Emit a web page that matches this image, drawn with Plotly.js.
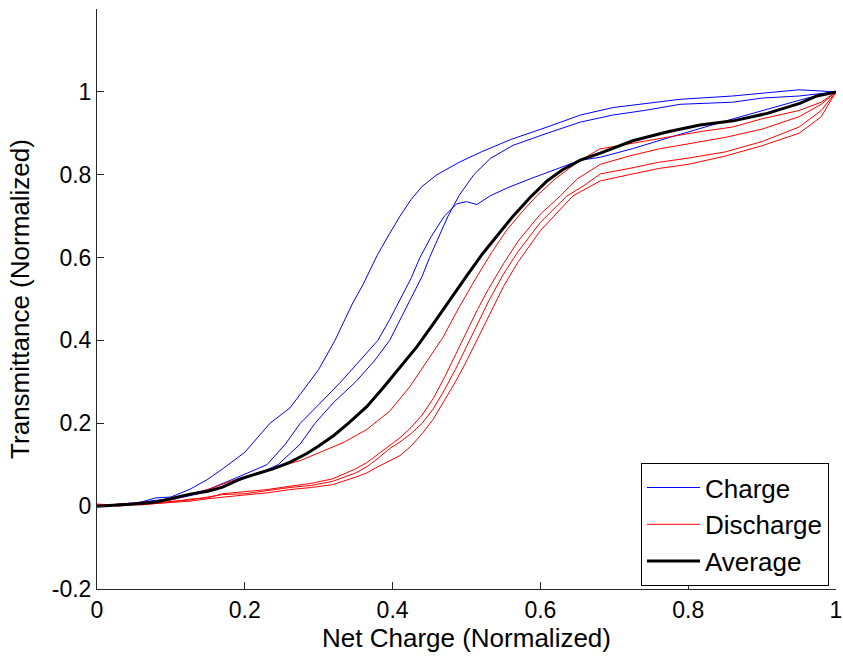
<!DOCTYPE html>
<html>
<head>
<meta charset="utf-8">
<script src="https://cdn.plot.ly/plotly-3.0.1.min.js"></script>
<style>html,body{margin:0;padding:0;background:#fff;}#chart{width:843px;height:659px;}</style>
</head>
<body>
<div id="chart"></div>
<script>
// Charge curves
const charge1X = [0, 0.05, 0.08, 0.1, 0.126, 0.15, 0.17, 0.2, 0.234, 0.261, 0.275, 0.3, 0.322, 0.346, 0.36, 0.379, 0.395, 0.41, 0.425, 0.44, 0.46, 0.49, 0.52, 0.56, 0.609, 0.654, 0.698, 0.744, 0.789, 0.86, 0.907, 0.95, 1.0];
const charge1Y = [0, 0.005, 0.02, 0.022, 0.041, 0.065, 0.09, 0.13, 0.2, 0.237, 0.27, 0.33, 0.40, 0.49, 0.535, 0.605, 0.655, 0.7, 0.74, 0.772, 0.80, 0.83, 0.855, 0.885, 0.915, 0.944, 0.962, 0.972, 0.982, 0.99, 0.998, 1.005, 1.0];

const charge2X = [0, 0.05, 0.1, 0.15, 0.19, 0.22, 0.245, 0.275, 0.295, 0.32, 0.35, 0.375, 0.396, 0.41, 0.425, 0.44, 0.45, 0.462, 0.475, 0.49, 0.51, 0.532, 0.563, 0.609, 0.654, 0.698, 0.744, 0.789, 0.82, 0.86, 0.9, 0.95, 1.0];
const charge2Y = [0, 0.005, 0.015, 0.035, 0.06, 0.08, 0.1, 0.15, 0.2, 0.25, 0.3, 0.35, 0.4, 0.45, 0.5, 0.555, 0.6, 0.65, 0.7, 0.75, 0.8, 0.839, 0.871, 0.90, 0.927, 0.944, 0.956, 0.97, 0.972, 0.975, 0.985, 0.99, 1.0];

const charge3X = [0, 0.05, 0.1, 0.15, 0.184, 0.21, 0.23, 0.255, 0.275, 0.3, 0.33, 0.355, 0.38, 0.396, 0.41, 0.425, 0.437, 0.452, 0.47, 0.487, 0.50, 0.514, 0.532, 0.555, 0.586, 0.609, 0.654, 0.681, 0.725, 0.771, 0.816, 0.861, 0.907, 0.961, 1.0];
const charge3Y = [0, 0.008, 0.018, 0.04, 0.065, 0.085, 0.1, 0.15, 0.2, 0.245, 0.3, 0.35, 0.4, 0.45, 0.5, 0.55, 0.6, 0.65, 0.7, 0.73, 0.735, 0.728, 0.749, 0.768, 0.79, 0.805, 0.835, 0.842, 0.863, 0.888, 0.912, 0.935, 0.958, 0.985, 1.0];

// Discharge curves
const discharge1X = [0, 0.05, 0.1, 0.15, 0.184, 0.216, 0.245, 0.275, 0.306, 0.335, 0.365, 0.396, 0.424, 0.445, 0.468, 0.49, 0.514, 0.535, 0.555, 0.575, 0.595, 0.62, 0.65, 0.68, 0.72, 0.77, 0.82, 0.86, 0.9, 0.95, 0.98, 1.0];
const discharge1Y = [0, 0.008, 0.015, 0.04, 0.062, 0.08, 0.095, 0.11, 0.133, 0.155, 0.185, 0.229, 0.29, 0.345, 0.407, 0.48, 0.554, 0.615, 0.668, 0.71, 0.749, 0.79, 0.83, 0.862, 0.875, 0.89, 0.905, 0.915, 0.935, 0.955, 0.975, 1.0];

const discharge2X = [0, 0.03, 0.06, 0.1, 0.126, 0.15, 0.17, 0.2, 0.23, 0.261, 0.29, 0.319, 0.35, 0.365, 0.38, 0.396, 0.41, 0.425, 0.44, 0.455, 0.47, 0.485, 0.5, 0.515, 0.53, 0.55, 0.57, 0.6, 0.627, 0.65, 0.681, 0.72, 0.76, 0.8, 0.85, 0.9, 0.95, 0.98, 1.0];
const discharge2Y = [0, 0.005, 0.003, 0.01, 0.017, 0.02, 0.03, 0.035, 0.04, 0.048, 0.055, 0.066, 0.09, 0.105, 0.125, 0.146, 0.165, 0.19, 0.22, 0.26, 0.31, 0.365, 0.42, 0.475, 0.525, 0.585, 0.64, 0.705, 0.749, 0.79, 0.825, 0.845, 0.862, 0.875, 0.89, 0.91, 0.94, 0.97, 1.0];

const discharge3X = [0, 0.03, 0.06, 0.1, 0.126, 0.15, 0.17, 0.2, 0.23, 0.261, 0.29, 0.319, 0.35, 0.365, 0.38, 0.396, 0.41, 0.425, 0.44, 0.455, 0.47, 0.485, 0.5, 0.515, 0.53, 0.55, 0.57, 0.6, 0.636, 0.66, 0.681, 0.72, 0.76, 0.8, 0.85, 0.9, 0.95, 0.98, 1.0];
const discharge3Y = [0.003, 0.0, 0.006, 0.012, 0.015, 0.022, 0.028, 0.03, 0.038, 0.045, 0.05, 0.06, 0.08, 0.095, 0.115, 0.139, 0.155, 0.175, 0.2, 0.235, 0.28, 0.33, 0.385, 0.44, 0.495, 0.56, 0.615, 0.685, 0.749, 0.775, 0.802, 0.815, 0.83, 0.84, 0.855, 0.88, 0.915, 0.955, 1.0];

const discharge4X = [0, 0.03, 0.06, 0.1, 0.126, 0.15, 0.17, 0.2, 0.23, 0.261, 0.29, 0.319, 0.35, 0.365, 0.38, 0.396, 0.41, 0.425, 0.44, 0.455, 0.47, 0.485, 0.5, 0.515, 0.53, 0.55, 0.57, 0.6, 0.644, 0.66, 0.681, 0.72, 0.76, 0.8, 0.85, 0.9, 0.95, 0.98, 1.0];
const discharge4Y = [0.005, 0.002, 0.004, 0.008, 0.012, 0.018, 0.022, 0.027, 0.032, 0.04, 0.045, 0.052, 0.07, 0.08, 0.095, 0.11, 0.122, 0.145, 0.175, 0.21, 0.255, 0.3, 0.35, 0.405, 0.46, 0.53, 0.59, 0.665, 0.749, 0.765, 0.785, 0.8, 0.815, 0.825, 0.845, 0.87, 0.9, 0.94, 1.0];

// Average curve
const averageX = [0, 0.05, 0.08, 0.1, 0.126, 0.15, 0.17, 0.194, 0.215, 0.238, 0.26, 0.284, 0.3, 0.32, 0.34, 0.365, 0.387, 0.41, 0.433, 0.455, 0.478, 0.5, 0.522, 0.545, 0.563, 0.586, 0.609, 0.63, 0.654, 0.681, 0.698, 0.725, 0.771, 0.816, 0.861, 0.907, 0.951, 0.974, 1.0];
const averageY = [0, 0.005, 0.01, 0.018, 0.029, 0.036, 0.046, 0.066, 0.077, 0.09, 0.105, 0.127, 0.145, 0.17, 0.2, 0.24, 0.285, 0.335, 0.385, 0.44, 0.5, 0.555, 0.61, 0.66, 0.70, 0.745, 0.785, 0.812, 0.835, 0.852, 0.864, 0.882, 0.903, 0.92, 0.93, 0.948, 0.972, 0.99, 1.0];

const xTickVals = [0, 0.2, 0.4, 0.6, 0.8, 1];
const xTickText = ['0', '0.2', '0.4', '0.6', '0.8', '1'];
const yTickVals = [-0.2, 0, 0.2, 0.4, 0.6, 0.8, 1];
const yTickText = ['-0.2', '0', '0.2', '0.4', '0.6', '0.8', '1'];

const FONT = 'Liberation Sans, Arial, sans-serif';

const chargeSets = [[charge1X, charge1Y], [charge2X, charge2Y], [charge3X, charge3Y]];
const dischargeSets = [[discharge1X, discharge1Y], [discharge2X, discharge2Y], [discharge3X, discharge3Y], [discharge4X, discharge4Y]];

const traces = [];
chargeSets.forEach((s, i) => traces.push({
  x: s[0], y: s[1], type: 'scatter', mode: 'lines', name: 'Charge',
  legendgroup: 'c', showlegend: i === 0,
  line: {color: '#0000ff', width: 1}
}));
dischargeSets.forEach((s, i) => traces.push({
  x: s[0], y: s[1], type: 'scatter', mode: 'lines', name: 'Discharge',
  legendgroup: 'd', showlegend: i === 0,
  line: {color: '#ff0000', width: 1}
}));
traces.push({
  x: averageX, y: averageY, type: 'scatter', mode: 'lines', name: 'Average',
  line: {color: '#000000', width: 3}
});

const layout = {
  width: 843, height: 659,
  margin: {l: 97, r: 7, t: 9, b: 70, pad: 0},
  paper_bgcolor: '#ffffff', plot_bgcolor: '#ffffff',
  font: {family: FONT, size: 23, color: '#000'},
  showlegend: true,
  legend: {
    x: 0.9905, y: 0.005, xanchor: 'right', yanchor: 'bottom',
    bgcolor: '#ffffff', bordercolor: '#000000', borderwidth: 1,
    font: {family: FONT, size: 26, color: '#000'},
    tracegroupgap: 0, itemwidth: 53
  },
  xaxis: {
    range: [0, 1], tickvals: xTickVals, ticktext: xTickText,
    ticks: 'inside', ticklen: 7, tickwidth: 1, tickcolor: '#262626',
    showline: true, linecolor: '#262626', linewidth: 1, mirror: false,
    showgrid: false, zeroline: false,
    tickfont: {family: FONT, size: 23, color: '#000'},
    title: {text: 'Net Charge (Normalized)', font: {family: FONT, size: 26, color: '#000'}, standoff: 1}
  },
  yaxis: {
    range: [-0.2, 1.2], tickvals: yTickVals, ticktext: yTickText,
    ticks: 'inside', ticklen: 7, tickwidth: 1, tickcolor: '#262626',
    showline: true, linecolor: '#262626', linewidth: 1, mirror: false,
    showgrid: false, zeroline: false,
    tickfont: {family: FONT, size: 23, color: '#000'},
    title: {text: 'Transmittance (Normalized)', font: {family: FONT, size: 26, color: '#000'}, standoff: 14}
  }
};

Plotly.newPlot('chart', traces, layout, {displayModeBar: false, staticPlot: true});
</script>
</body>
</html>
